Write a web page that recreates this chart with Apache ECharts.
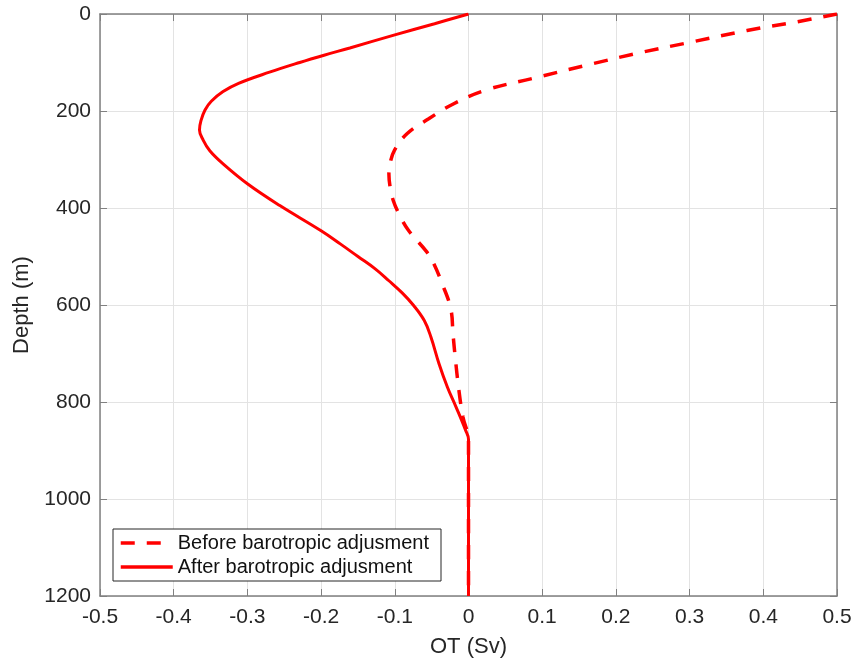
<!DOCTYPE html>
<html>
<head>
<meta charset="utf-8">
<script src="https://cdn.jsdelivr.net/npm/echarts@6/dist/echarts.min.js"></script>
<style>
  html, body { margin: 0; padding: 0; background: #ffffff; }
  #chart { width: 864px; height: 664px; }
</style>
</head>
<body>
<div id="chart"></div>
<script>
// Overturning transport profiles (OT in Sv vs depth in m)
var beforeDepth = [0, 16, 34, 57, 80, 106, 133, 157, 185, 216, 247, 281, 305, 330, 360, 385, 410, 445, 488, 509, 557, 608, 660, 708, 776, 831, 879, 1200];
var beforeOT    = [0.5, 0.446, 0.378, 0.305, 0.232, 0.159, 0.0865, 0.023, -0.020, -0.054, -0.0835, -0.1005, -0.106, -0.108, -0.106, -0.102, -0.095, -0.082, -0.058, -0.049, -0.0355, -0.024, -0.021, -0.018, -0.013, -0.0075, 0, 0];

var afterDepth = [0, 20, 43, 70, 85, 100, 120, 143, 160, 180, 198, 220, 239, 260, 282, 309, 350, 395, 447, 474, 500, 525, 550, 575, 600, 632, 666, 721, 769, 810, 858, 877, 1200];
var afterOT    = [0, -0.046, -0.1, -0.161, -0.196, -0.229, -0.270, -0.312, -0.333, -0.349, -0.3575, -0.363, -0.365, -0.360, -0.351, -0.333, -0.3, -0.256, -0.2, -0.174, -0.150, -0.127, -0.108, -0.090, -0.075, -0.060, -0.051, -0.040, -0.0287, -0.017, -0.004, 0, 0];

var seriesNames = ['Before barotropic adjusment', 'After barotropic adjusment'];
var xTitle = 'OT (Sv)';
var yTitle = 'Depth (m)';

function pairs(xs, ys) {
  return xs.map(function (x, i) { return [x, ys[i]]; });
}

var FONT = '"Liberation Sans", Arial, Helvetica, sans-serif';
var TXT = '#262626';
var AX = '#808080';

var chart = echarts.init(document.getElementById('chart'), null, { renderer: 'canvas' });

var baseX = { type: 'value', min: -0.5, max: 0.5, interval: 0.1 };
var baseY = { type: 'value', min: 0, max: 1200, interval: 200, inverse: true };

function plain(v) { return String(Math.round(v * 10) / 10); }

chart.setOption({
  animation: false,
  backgroundColor: '#ffffff',
  grid: { left: 100, top: 14, right: 27, bottom: 68, containLabel: false },
  legend: {
    orient: 'vertical',
    left: 113, top: 529,
    padding: [4, 12, 4, 6],
    itemWidth: 52, itemHeight: 22, itemGap: 4,
    backgroundColor: '#ffffff',
    borderColor: '#262626', borderWidth: 1,
    itemStyle: { opacity: 0, borderWidth: 0 },
    lineStyle: { width: 3.5 },
    textStyle: { fontFamily: FONT, fontSize: 20, color: '#111111' },
    data: seriesNames
  },
  xAxis: [
    Object.assign({}, baseX, {
      position: 'bottom',
      name: xTitle, nameLocation: 'middle', nameGap: 40,
      nameTextStyle: { fontFamily: FONT, fontSize: 22, color: TXT },
      axisLine: { show: true, onZero: false, lineStyle: { color: AX, width: 1.5 } },
      axisTick: { show: true, inside: true, length: 7, lineStyle: { color: AX } },
      axisLabel: { fontFamily: FONT, fontSize: 21, color: TXT, margin: 11, formatter: plain },
      splitLine: { show: true, lineStyle: { color: '#e3e3e3', width: 1 } }
    }),
    Object.assign({}, baseX, {
      position: 'top',
      axisLine: { show: true, onZero: false, lineStyle: { color: AX, width: 1.5 } },
      axisTick: { show: true, inside: true, length: 7, lineStyle: { color: AX } },
      axisLabel: { show: false },
      splitLine: { show: false }
    })
  ],
  yAxis: [
    Object.assign({}, baseY, {
      position: 'left',
      name: yTitle, nameLocation: 'middle', nameGap: 53,
      nameTextStyle: { fontFamily: FONT, fontSize: 22, color: TXT },
      axisLine: { show: true, onZero: false, lineStyle: { color: AX, width: 1.5 } },
      axisTick: { show: true, inside: true, length: 7, lineStyle: { color: AX } },
      axisLabel: { fontFamily: FONT, fontSize: 21, color: TXT, margin: 9, formatter: function (v) { return String(v); } },
      splitLine: { show: true, lineStyle: { color: '#e3e3e3', width: 1 } }
    }),
    Object.assign({}, baseY, {
      position: 'right',
      axisLine: { show: true, onZero: false, lineStyle: { color: AX, width: 1.5 } },
      axisTick: { show: true, inside: true, length: 7, lineStyle: { color: AX } },
      axisLabel: { show: false },
      splitLine: { show: false }
    })
  ],
  series: [
    {
      name: seriesNames[0],
      type: 'line',
      xAxisIndex: 0, yAxisIndex: 0,
      data: pairs(beforeOT, beforeDepth),
      symbol: 'none',
      smooth: 0.4,
      lineStyle: { color: '#ff0000', width: 3.5, type: [14, 12] },
      itemStyle: { color: '#ff0000' },
      z: 3
    },
    {
      name: seriesNames[1],
      type: 'line',
      xAxisIndex: 0, yAxisIndex: 0,
      data: pairs(afterOT, afterDepth),
      symbol: 'none',
      smooth: 0.4,
      lineStyle: { color: '#ff0000', width: 3 },
      itemStyle: { color: '#ff0000' },
      z: 4
    }
  ]
});
</script>
</body>
</html>
